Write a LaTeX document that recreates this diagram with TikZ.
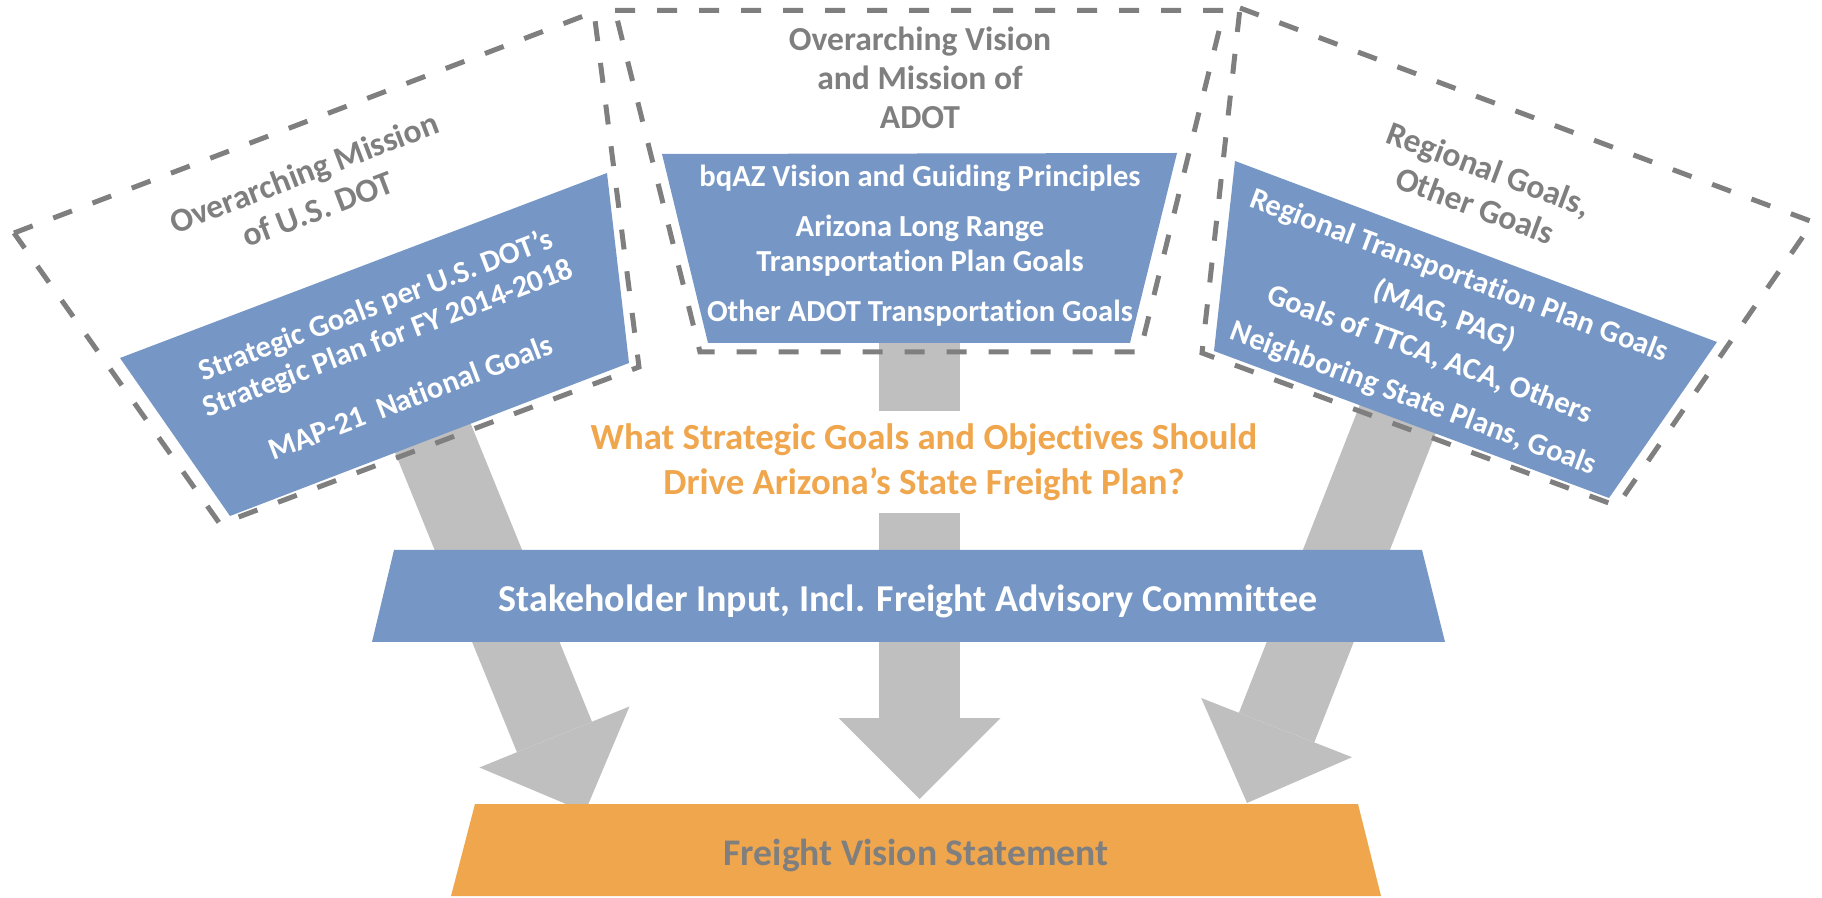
\documentclass[tikz,border=0pt]{standalone}
\usepackage{fontspec}
\setmainfont{Carlito}[Ligatures=NoCommon]
\usetikzlibrary{arrows.meta}

\definecolor{boxblue}{HTML}{7697C5}
\definecolor{visionorange}{HTML}{F0A64D}
\definecolor{arrowgray}{HTML}{BFBFBF}
\definecolor{titlegray}{HTML}{7F7F7F}

\tikzset{
  goalbox/.style={fill=boxblue},
  frame/.style={draw=titlegray, line width=2.5pt, dash pattern=on 10pt off 11pt},
  bigarrow/.style={draw=arrowgray, line width=40.5pt,
    -{Triangle[length=40.5pt, width=81pt, line width=0pt]}},
  goaltext/.style={text=white, align=center, inner sep=0pt,
    font=\bfseries\fontsize{15.3}{17.5}\selectfont},
  titletext/.style={text=titlegray, align=center, inner sep=0pt,
    font=\bfseries\fontsize{16.8}{19.5}\selectfont},
}

\begin{document}
\begin{tikzpicture}[x=0.5pt, y=-0.5pt]
  \useasboundingbox (0,0) rectangle (1822,898);

  % Fleches
  \coordinate (fromUS) at (408,377);
  \coordinate (toUS) at (585,812);
  \coordinate (fromADOT) at (919.5,300);
  \coordinate (toADOT) at (919.5,799);
  \coordinate (fromRegion) at (1419,365);
  \coordinate (toRegion) at (1247,803);
  \foreach \depart/\arrivee in {fromUS/toUS, fromADOT/toADOT, fromRegion/toRegion}
    \draw[bigarrow] (\depart) -- (\arrivee);

  % Question au milieu
  \node[fill=white, text=visionorange, align=center, inner xsep=4pt, inner ysep=6pt,
    font=\bfseries\fontsize{18.4}{22.5}\selectfont] (question) at (924,462)
    {What Strategic Goals and Objectives Should\\ Drive Arizona’s State Freight Plan?};

  % Parties prenantes et vision
  \fill[goalbox] (394,550) -- (1422,550) -- (1445,642) -- (372,642) -- cycle;
  \node[anchor=base, text=white, font=\bfseries\fontsize{19}{22}\selectfont]
    (stakeholder) at (908,611) {Stakeholder Input, Incl. Freight Advisory Committee};
  \fill[visionorange] (475,804) -- (1358,804) -- (1381,896) -- (451,896) -- cycle;
  \node[anchor=base, text=titlegray, font=\bfseries\fontsize{18.8}{22}\selectfont]
    (vision) at (916,865) {Freight Vision Statement};

  % Boites des objectifs
  \fill[goalbox] (120,358) -- (607,173) -- (629,363) -- (230,516) -- cycle;
  \fill[goalbox] (662,154) -- (1177,153) -- (1130,343) -- (708,343) -- cycle;
  \fill[goalbox] (1235,161) -- (1717,342) -- (1609,498) -- (1214,351) -- cycle;

  \node[goaltext, rotate=20.9] (usgoals) at (392.7,350.3)
    {Strategic Goals per U.S. DOT’s\\ Strategic Plan for FY 2014-2018\\[14.5pt] MAP-21~~National Goals};
  \node[goaltext] (adotgoals) at (920,245.5)
    {bqAZ Vision and Guiding Principles\\[7.5pt] Arizona Long Range\\ Transportation Plan Goals\\[7.5pt] Other ADOT Transportation Goals};
  \node[goaltext, rotate=-20.5, font=\bfseries\fontsize{15.3}{21}\selectfont] (regiongoals) at (1436,338)
    {Regional Transportation Plan Goals\\ (MAG, PAG)\\ Goals of TTCA, ACA, Others\\[2.5pt] Neighboring State Plans, Goals};

  % Cadres en tirets
  \draw[frame] (14,233) -- (594,12) -- (639,367) -- (220,524) -- cycle;
  \draw[frame] (615,10.5) -- (1224,10.5) -- (1140,352) -- (700,352) -- cycle;
  \draw[frame] (1240,8) -- (1813,222) -- (1617,506) -- (1202,353) -- cycle;

  \node[titletext, rotate=20.9] (ustitle) at (311,190.5) {Overarching Mission\\ of U.S. DOT};
  \node[titletext] (adottitle) at (920,78) {Overarching Vision\\ and Mission of\\ ADOT};
  \node[titletext, rotate=-20.5] (regiontitle) at (1482,187) {Regional Goals,\\ Other Goals};
\end{tikzpicture}
\end{document}
